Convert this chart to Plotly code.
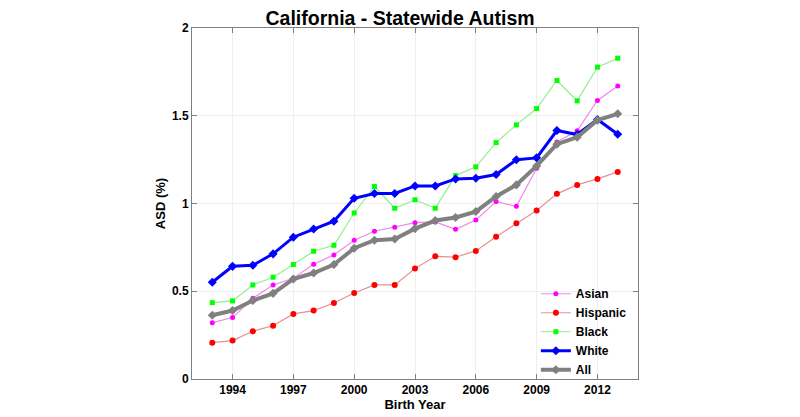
import plotly.graph_objects as go

years = list(range(1993, 2014))
asian = [0.321, 0.350, 0.460, 0.536, 0.574, 0.654, 0.707, 0.791, 0.842, 0.865, 0.891,
         0.895, 0.853, 0.906, 1.011, 0.984, 1.201, 1.351, 1.414, 1.587, 1.670]
hispanic = [0.207, 0.219, 0.272, 0.304, 0.371, 0.390, 0.433, 0.490, 0.536, 0.536, 0.629,
            0.699, 0.694, 0.730, 0.811, 0.887, 0.960, 1.055, 1.106, 1.140, 1.180]
black = [0.435, 0.445, 0.536, 0.580, 0.652, 0.728, 0.762, 0.946, 1.097, 0.973, 1.021,
         0.973, 1.159, 1.209, 1.347, 1.448, 1.541, 1.701, 1.585, 1.777, 1.828]
white = [0.551, 0.642, 0.648, 0.713, 0.808, 0.855, 0.899, 1.030, 1.057, 1.057, 1.100,
         1.100, 1.140, 1.144, 1.165, 1.249, 1.260, 1.416, 1.393, 1.479, 1.395]
all_ = [0.363, 0.390, 0.447, 0.488, 0.570, 0.604, 0.652, 0.745, 0.791, 0.798, 0.857,
        0.903, 0.920, 0.954, 1.040, 1.106, 1.214, 1.338, 1.378, 1.475, 1.511]

x_ticks = [1994, 1997, 2000, 2003, 2006, 2009, 2012]
y_ticks = [0, 0.5, 1, 1.5, 2]
y_labels = ["0", "0.5", "1", "1.5", "2"]

FONT = "Liberation Sans, Arial, Helvetica, sans-serif"

series = [
    ("Asian", asian, "#ee88ee", 1.2, "#ff00ff", "circle", 5),
    ("Hispanic", hispanic, "#e89090", 1.2, "#ff0000", "circle", 6),
    ("Black", black, "#90ee90", 1.2, "#00ff00", "square", 5),
    ("White", white, "#0000ff", 3, "#0000ff", "diamond", 7),
    ("All", all_, "#808080", 4, "#808080", "diamond", 7),
]

fig = go.Figure()
for name, vals, lc, lw, mc, sym, ms in series:
    fig.add_trace(go.Scatter(
        x=years, y=vals, name=name, mode="lines+markers",
        line=dict(color=lc, width=lw),
        marker=dict(color=mc, symbol=sym, size=ms, line=dict(width=0)),
    ))

axis_common = dict(
    showline=True, linecolor="#808080", linewidth=1, mirror="allticks",
    ticks="inside", ticklen=5, tickcolor="#808080",
    showgrid=True, gridcolor="#efefef", gridwidth=1, zeroline=False,
    automargin=False,
    tickfont=dict(family=FONT, size=12, color="black", weight="bold"),
)

# page body has an 8px default margin, so the figure is sized/offset to compensate
fig.update_layout(
    width=792, height=409,
    paper_bgcolor="white", plot_bgcolor="white",
    margin=dict(l=184, r=162, t=20, b=38),
    title=dict(text="California - Statewide Autism", x=0.495, xanchor="center",
               y=0.976, yanchor="middle",
               font=dict(family=FONT, size=19.5, color="black", weight="bold")),
    xaxis=dict(range=[1992, 2014], tickvals=x_ticks,
               title=dict(text="Birth Year", standoff=3,
                          font=dict(family=FONT, size=13, color="black", weight="bold")),
               **axis_common),
    yaxis=dict(range=[0, 2], tickvals=y_ticks, ticktext=y_labels,
               title=dict(text="ASD (%)", standoff=3,
                          font=dict(family=FONT, size=13, color="black", weight="bold")),
               **axis_common),
    legend=dict(x=0.771, y=-0.015, xanchor="left", yanchor="bottom",
                bgcolor="rgba(255,255,255,0)", borderwidth=0,
                font=dict(family=FONT, size=12, color="black", weight="bold"),
                tracegroupgap=0, itemwidth=30),
    showlegend=True,
)

fig.write_html("out.html")
